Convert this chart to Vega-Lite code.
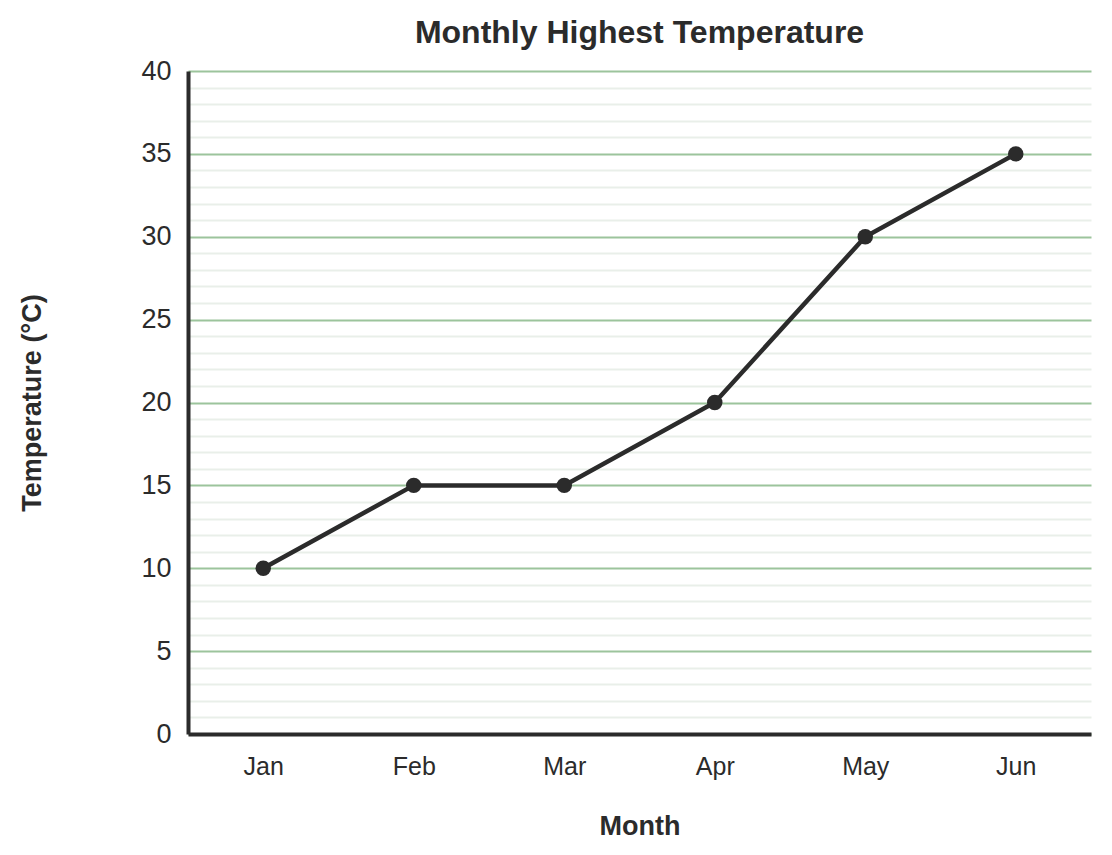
{
  "$schema": "https://vega.github.io/schema/vega-lite/v6.json",
  "autosize": "none",
  "width": 903,
  "height": 663,
  "padding": {"left": 188, "top": 71, "right": 21, "bottom": 121},
  "background": "white",
  "config": {
    "view": {"stroke": "transparent"},
    "font": "Liberation Sans",
    "axis": {
      "labelFont": "Liberation Sans",
      "titleFont": "Liberation Sans",
      "labelColor": "#2b2b2b",
      "titleColor": "#2b2b2b",
      "domainColor": "#2b2b2b",
      "domainWidth": 4,
      "ticks": false
    },
    "title": {
      "font": "Liberation Sans",
      "fontSize": 32,
      "fontWeight": "bold",
      "color": "#2b2b2b",
      "anchor": "middle",
      "offset": 7
    }
  },
  "title": "Monthly Highest Temperature",
  "data": {
    "values": [
      {"month": "Jan", "temp": 10},
      {"month": "Feb", "temp": 15},
      {"month": "Mar", "temp": 15},
      {"month": "Apr", "temp": 20},
      {"month": "May", "temp": 30},
      {"month": "Jun", "temp": 35}
    ]
  },
  "encoding": {
    "x": {
      "field": "month",
      "type": "ordinal",
      "sort": null,
      "scale": {"type": "point", "padding": 0.5},
      "axis": {
        "title": "Month",
        "labelAngle": 0,
        "labelFontSize": 25,
        "labelPadding": 20,
        "titleFontSize": 27,
        "titleFontWeight": "bold",
        "titlePadding": 34,
        "grid": false
      }
    },
    "y": {
      "field": "temp",
      "type": "quantitative",
      "scale": {"domain": [0, 40], "nice": false},
      "axis": {
        "title": "Temperature (°C)",
        "values": [0, 1, 2, 3, 4, 5, 6, 7, 8, 9, 10, 11, 12, 13, 14, 15, 16, 17, 18, 19, 20, 21, 22, 23, 24, 25, 26, 27, 28, 29, 30, 31, 32, 33, 34, 35, 36, 37, 38, 39, 40],
        "labelExpr": "datum.value % 5 === 0 ? datum.label : ''",
        "labelFontSize": 27,
        "labelPadding": 17,
        "titleFontSize": 27,
        "titleFontWeight": "bold",
        "titlePadding": 94,
        "grid": true,
        "gridWidth": 2,
        "gridColor": {
          "condition": {"test": "datum.value % 5 === 0", "value": "#9cc49c"},
          "value": "#e9efe9"
        }
      }
    }
  },
  "layer": [
    {
      "mark": {"type": "line", "color": "#2b2b2b", "strokeWidth": 4.5}
    },
    {
      "mark": {"type": "point", "filled": true, "color": "#2b2b2b", "size": 240, "opacity": 1}
    }
  ]
}
